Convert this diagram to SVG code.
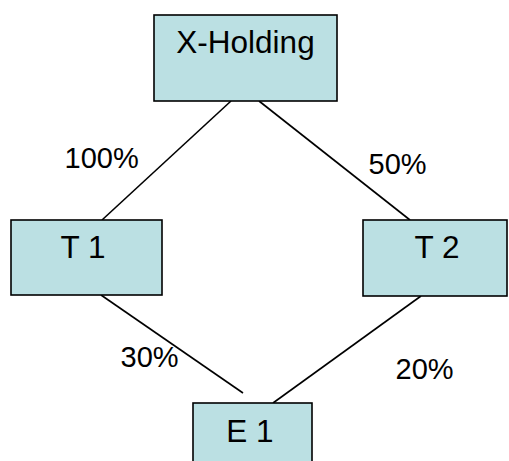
<svg xmlns="http://www.w3.org/2000/svg" width="509" height="461" viewBox="0 0 509 461">
  <style>
    .box { fill: #BBE0E3; stroke: #000; stroke-width: 1.6; }
    .lbl { font-family: "Liberation Sans", Arial, sans-serif; font-size: 31.5px; fill: #000; }
    .pct { font-family: "Liberation Sans", Arial, sans-serif; font-size: 29px; fill: #000; }
    .edge { stroke: #000; stroke-width: 1.6; fill: none; }
  </style>
  <rect width="509" height="461" fill="#fff"/>

  <!-- ownership connectors -->
  <g id="connectors">
    <line class="edge" x1="231" y1="101" x2="102" y2="220"/>
    <line class="edge" x1="259" y1="101" x2="410" y2="220"/>
    <line class="edge" x1="101" y1="295" x2="243" y2="393"/>
    <line class="edge" x1="421" y1="296" x2="273" y2="403"/>
  </g>

  <!-- share percentages -->
  <g id="labels">
    <text class="pct" x="64.5" y="168">100%</text>
    <text class="pct" x="368.5" y="174">50%</text>
    <text class="pct" x="120.5" y="367">30%</text>
    <text class="pct" x="395.5" y="379">20%</text>
  </g>

  <g id="x-holding">
    <rect class="box" x="154" y="15" width="183" height="86"/>
    <text class="lbl" x="245.5" y="53" text-anchor="middle">X-Holding</text>
  </g>

  <g id="t1">
    <rect class="box" x="11" y="220" width="151" height="75"/>
    <text class="lbl" x="83" y="258" text-anchor="middle">T 1</text>
  </g>

  <g id="t2">
    <rect class="box" x="363" y="220" width="144" height="76"/>
    <text class="lbl" x="437" y="258" text-anchor="middle">T 2</text>
  </g>

  <g id="e1">
    <rect class="box" x="193" y="403" width="119" height="70"/>
    <text class="lbl" x="250" y="442" text-anchor="middle">E 1</text>
  </g>
</svg>
